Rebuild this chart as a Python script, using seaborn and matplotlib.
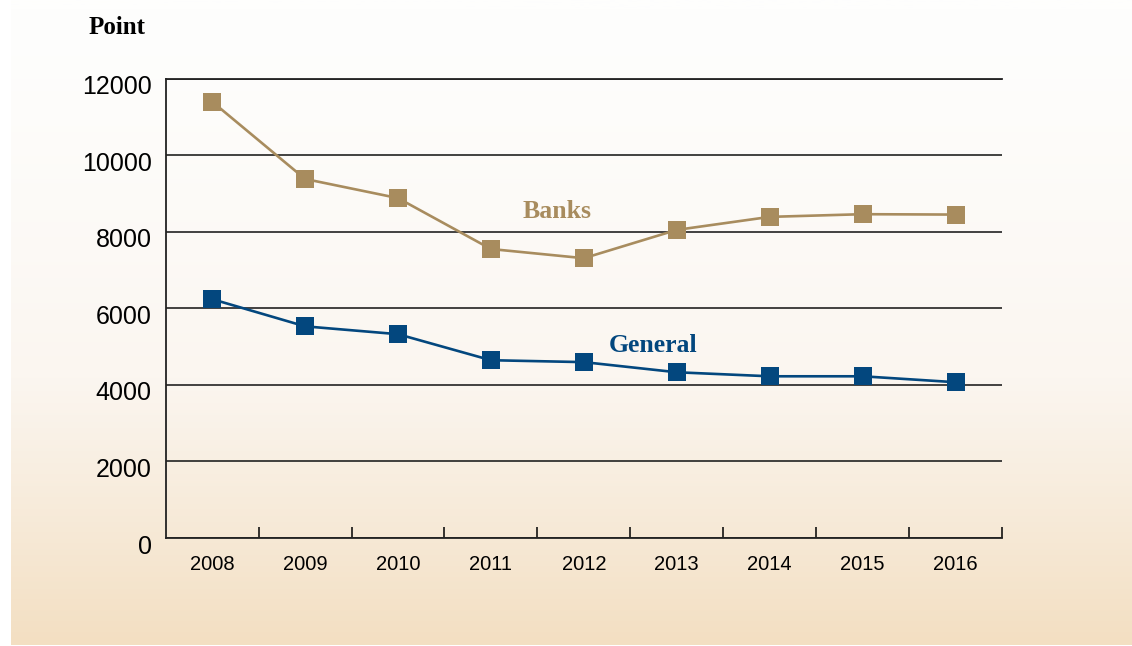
import numpy as np
import pandas as pd
import matplotlib
matplotlib.use("Agg")
import matplotlib.pyplot as plt
import matplotlib.transforms as mtransforms
from matplotlib.colors import LinearSegmentedColormap
from matplotlib.ticker import FixedLocator
import seaborn as sns

years = ["2008", "2009", "2010", "2011", "2012", "2013", "2014", "2015", "2016"]
banks = [11400, 9380, 8880, 7550, 7310, 8050, 8390, 8460, 8450]
general = [6240, 5530, 5325, 4645, 4595, 4330, 4225, 4225, 4070]
series_names = ["Banks", "General"]
yticks = [0, 2000, 4000, 6000, 8000, 10000, 12000]

banks_color = "#A88C5E"
general_color = "#03477E"

sns.set_theme(style="white")
plt.rcParams["font.family"] = ["Liberation Sans", "DejaVu Sans"]

W, H = 1132, 646
fig = plt.figure(figsize=(W / 100, H / 100), dpi=100)
fig.patch.set_facecolor("white")

# background gradient panel
bg = fig.add_axes([11 / W, 1 / H, (W - 11) / W, (H - 1) / H])
bg.set_axis_off()
cmap = LinearSegmentedColormap.from_list("bg", ["#FEFEFD", "#FBF6F0", "#F3DFC2"])
grad = np.linspace(0, 1, 256).reshape(-1, 1) ** 1.3
bg.imshow(grad, aspect="auto", cmap=cmap, extent=[0, 1, 0, 1], origin="upper")
bg.set_xlim(0, 1)
bg.set_ylim(0, 1)

left, right, top, bottom = 165.7, 1002, 78.7, 538
ax = fig.add_axes([left / W, (H - bottom) / H, (right - left) / W, (bottom - top) / H])
ax.patch.set_alpha(0)

df = pd.DataFrame({
    "year": years * 2,
    "value": banks + general,
    "series": [series_names[0]] * len(years) + [series_names[1]] * len(years),
})
sns.lineplot(data=df, x="year", y="value", hue="series",
             palette={"Banks": banks_color, "General": general_color},
             marker="s", markersize=12.5, markeredgewidth=0, linewidth=1.9,
             legend=False, ax=ax, zorder=5)

ax.set_xlim(-0.5, len(years) - 0.5)
ax.set_ylim(0, 12000)
ax.set_yticks(yticks)
ax.set_yticklabels([str(v) for v in yticks], fontsize=18, color="black")
ax.set_xticks(range(len(years)))
ax.set_xticklabels(years, fontsize=14.5, color="black")
ax.xaxis.set_minor_locator(FixedLocator(np.arange(0.5, len(years), 1.0)))
ax.tick_params(axis="x", which="major", length=0, pad=12)
ax.tick_params(axis="x", which="minor", direction="in", length=8, width=1.1, color="black", bottom=True)
ax.tick_params(axis="y", length=0, pad=10)
ax.set_xlabel("")
ax.set_ylabel("")

# shift y tick labels slightly down like the reference
offset = mtransforms.ScaledTranslation(0, -6 / 100, fig.dpi_scale_trans)
for lbl in ax.get_yticklabels():
    lbl.set_transform(lbl.get_transform() + offset)

ax.grid(axis="y", color="#222222", linewidth=1.2)
ax.grid(axis="x", visible=False)
for s in ["left", "bottom", "top"]:
    ax.spines[s].set_visible(True)
    ax.spines[s].set_color("#222222")
    ax.spines[s].set_linewidth(1.3)
ax.spines["right"].set_visible(False)

ax.text(3.71, 8540, "Banks", color=banks_color, fontsize=18.5, fontweight="bold",
        family=["Liberation Serif", "DejaVu Serif"], ha="center", va="center")
ax.text(4.74, 5020, "General", color=general_color, fontsize=18.5, fontweight="bold",
        family=["Liberation Serif", "DejaVu Serif"], ha="center", va="center")

fig.text(117 / W, 1 - 27 / H, "Point", fontsize=18, fontweight="bold",
         family=["Liberation Serif", "DejaVu Serif"], ha="center", va="center", color="black")

fig.savefig("out.png", dpi=100)
